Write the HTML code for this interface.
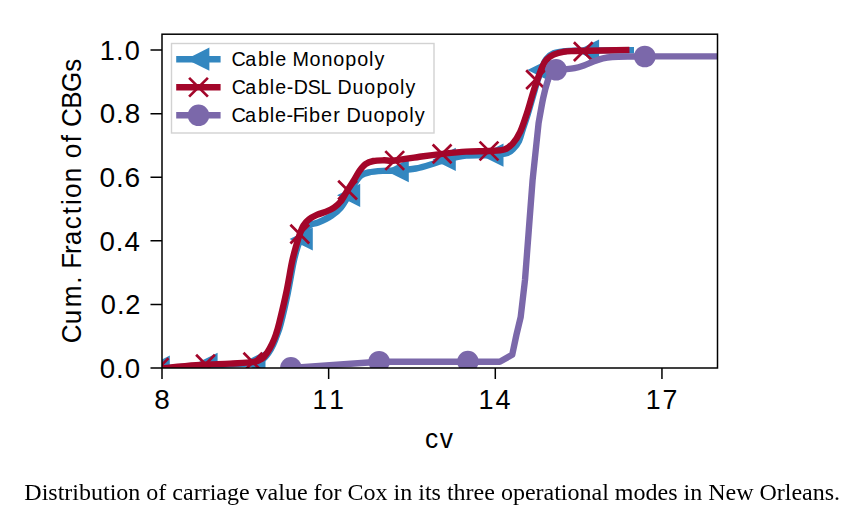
<!DOCTYPE html>
<html><head><meta charset="utf-8"><style>
html,body{margin:0;padding:0;background:#fff;}
body{width:866px;height:528px;overflow:hidden;}
svg{display:block;}
text{font-family:"Liberation Sans",sans-serif;fill:#000;}
.cap{font-family:"Liberation Serif",serif;}
</style></head><body>
<svg width="866" height="528" viewBox="0 0 866 528">
<rect x="0" y="0" width="866" height="528" fill="#fff"/>

<path d="M150.50,368.00H162.00M150.50,304.42H162.00M150.50,240.84H162.00M150.50,177.26H162.00M150.50,113.68H162.00M150.50,50.10H162.00M162.00,368.00V379.00M328.65,368.00V379.00M495.30,368.00V379.00M661.95,368.00V379.00" stroke="#000" stroke-width="1.5" fill="none"/>
<text transform="translate(99.07,377.75) scale(1.0067,1)" font-size="27.5"><tspan x="0.63">0</tspan><tspan x="16.86">.</tspan><tspan x="25.46">0</tspan></text>
<text transform="translate(99.96,314.17) scale(0.9907,1)" font-size="27.5"><tspan x="0.76">0</tspan><tspan x="17.20">.</tspan><tspan x="25.64">2</tspan></text>
<text transform="translate(98.80,250.59) scale(1.0067,1)" font-size="27.5"><tspan x="0.63">0</tspan><tspan x="16.86">.</tspan><tspan x="25.45">4</tspan></text>
<text transform="translate(98.98,187.01) scale(1.0224,1)" font-size="27.5"><tspan x="0.50">0</tspan><tspan x="16.54">.</tspan><tspan x="24.95">6</tspan></text>
<text transform="translate(99.12,123.43) scale(1.0116,1)" font-size="27.5"><tspan x="0.59">0</tspan><tspan x="16.76">.</tspan><tspan x="25.30">8</tspan></text>
<text transform="translate(99.07,59.85) scale(0.9875,1)" font-size="27.5"><tspan x="0.65">1</tspan><tspan x="17.26">.</tspan><tspan x="26.10">0</tspan></text>
<text transform="translate(153.67,408.85) scale(1.0152,1)" font-size="27.5"><tspan x="0.56">8</tspan></text>
<text transform="translate(311.75,408.85) scale(0.9592,1)" font-size="27.5"><tspan x="0.91">1</tspan><tspan x="18.28">1</tspan></text>
<text transform="translate(477.93,408.85) scale(0.9836,1)" font-size="27.5"><tspan x="0.68">1</tspan><tspan x="17.76">4</tspan></text>
<text transform="translate(644.96,408.85) scale(0.9711,1)" font-size="27.5"><tspan x="0.80">1</tspan><tspan x="18.04">7</tspan></text>
<text transform="translate(424.91,447.63) scale(0.9654,1)" font-size="27.4"><tspan x="0.06">c</tspan><tspan x="15.35">v</tspan></text>
<text transform="translate(81.3,342.62) rotate(-90) scale(0.9606,1)" font-size="27.1"><tspan x="-0.72">C</tspan><tspan x="19.18">u</tspan><tspan x="36.77">m</tspan><tspan x="61.25">.</tspan><tspan x="76.87">F</tspan><tspan x="92.29">r</tspan><tspan x="101.27">a</tspan><tspan x="118.04">c</tspan><tspan x="133.71">t</tspan><tspan x="143.38">i</tspan><tspan x="150.58">o</tspan><tspan x="167.06">n</tspan><tspan x="191.83">o</tspan><tspan x="208.65">f</tspan><tspan x="224.37">C</tspan><tspan x="243.49">B</tspan><tspan x="260.82">G</tspan><tspan x="281.87">s</tspan></text>
<defs><clipPath id="ax"><rect x="162.0" y="34.2" width="555.5" height="333.8"/></clipPath></defs>
<g clip-path="url(#ax)">
<path d="M162.50,368.50C169.67,368.00 190.33,366.42 205.50,365.50C220.67,364.58 244.08,363.92 253.50,363.00C262.92,362.08 259.52,361.63 262.00,360.00C264.48,358.37 266.53,355.75 268.40,353.20C270.27,350.65 271.77,347.70 273.20,344.70C274.63,341.70 275.75,338.65 277.00,335.20C278.25,331.75 278.90,331.03 280.70,324.00C282.50,316.97 285.67,303.25 287.80,293.00C289.93,282.75 291.83,270.28 293.50,262.50C295.17,254.72 296.50,250.38 297.80,246.30C299.10,242.22 299.93,240.88 301.30,238.00C302.67,235.12 304.38,231.27 306.00,229.00C307.62,226.73 308.98,225.48 311.00,224.40C313.02,223.32 314.70,223.93 318.10,222.50C321.50,221.07 327.65,218.23 331.40,215.80C335.15,213.37 337.73,211.32 340.60,207.90C343.47,204.48 346.20,199.45 348.60,195.30C351.00,191.15 352.93,186.30 355.00,183.00C357.07,179.70 358.77,177.25 361.00,175.50C363.23,173.75 364.80,173.27 368.40,172.50C372.00,171.73 377.90,171.22 382.60,170.90C387.30,170.58 391.07,171.00 396.60,170.60C402.13,170.20 409.43,169.73 415.80,168.50C422.17,167.27 430.10,164.57 434.80,163.20C439.50,161.83 438.80,161.57 444.00,160.30C449.20,159.03 458.03,156.47 466.00,155.60C473.97,154.73 484.87,155.53 491.80,155.10C498.73,154.67 503.98,154.08 507.60,153.00C511.22,151.92 511.60,150.60 513.50,148.60C515.40,146.60 517.48,144.10 519.00,141.00C520.52,137.90 521.13,134.50 522.60,130.00C524.07,125.50 526.02,119.83 527.80,114.00C529.58,108.17 531.70,100.50 533.30,95.00C534.90,89.50 535.88,85.67 537.40,81.00C538.92,76.33 540.92,70.67 542.40,67.00C543.88,63.33 544.42,61.28 546.30,59.00C548.18,56.72 550.65,54.58 553.70,53.30C556.75,52.02 561.05,51.73 564.60,51.30C568.15,50.87 563.43,50.88 575.00,50.70C586.57,50.52 624.17,50.28 634.00,50.20" fill="none" stroke="#3387c0" stroke-width="6.4" stroke-linejoin="round"/>
<path d="M146.60,367.10L169.80,355.50L169.80,378.70ZM194.40,364.30L217.60,352.70L217.60,375.90ZM242.30,362.70L265.50,351.10L265.50,374.30ZM289.60,239.00L312.80,227.40L312.80,250.60ZM337.00,195.30L360.20,183.70L360.20,206.90ZM385.60,170.70L408.80,159.10L408.80,182.30ZM432.60,159.40L455.80,147.80L455.80,171.00ZM480.30,155.20L503.50,143.60L503.50,166.80ZM527.40,70.00L550.60,58.40L550.60,81.60ZM575.90,51.10L599.10,39.50L599.10,62.70Z" fill="#3387c0"/>
<path d="M162.50,368.20C168.08,367.70 184.75,365.97 196.00,365.20C207.25,364.43 220.62,364.10 230.00,363.60C239.38,363.10 247.00,363.00 252.30,362.20C257.60,361.40 259.28,360.47 261.80,358.80C264.32,357.13 265.67,354.72 267.40,352.20C269.13,349.68 270.77,346.70 272.20,343.70C273.63,340.70 274.83,337.65 276.00,334.20C277.17,330.75 277.48,329.95 279.20,323.00C280.92,316.05 284.17,302.67 286.30,292.50C288.43,282.33 290.33,269.87 292.00,262.00C293.67,254.13 295.03,249.85 296.30,245.30C297.57,240.75 298.40,238.00 299.60,234.70C300.80,231.40 301.97,228.03 303.50,225.50C305.03,222.97 306.58,221.27 308.80,219.50C311.02,217.73 313.92,216.22 316.80,214.90C319.68,213.58 323.23,212.82 326.10,211.60C328.97,210.38 331.58,209.27 334.00,207.60C336.42,205.93 338.33,204.52 340.60,201.60C342.87,198.68 345.43,193.57 347.60,190.10C349.77,186.63 351.62,184.00 353.60,180.80C355.58,177.60 357.52,173.67 359.50,170.90C361.48,168.13 363.18,165.85 365.50,164.20C367.82,162.55 370.32,161.65 373.40,161.00C376.48,160.35 380.45,160.38 384.00,160.30C387.55,160.22 388.45,161.13 394.70,160.50C400.95,159.87 413.60,157.60 421.50,156.50C429.40,155.40 434.68,154.72 442.10,153.90C449.52,153.08 458.15,152.08 466.00,151.60C473.85,151.12 482.83,151.35 489.20,151.00C495.57,150.65 500.28,150.73 504.20,149.50C508.12,148.27 510.03,146.53 512.70,143.60C515.37,140.67 517.82,137.00 520.20,131.90C522.58,126.80 524.93,119.30 527.00,113.00C529.07,106.70 530.93,99.47 532.60,94.10C534.27,88.73 535.38,85.35 537.00,80.80C538.62,76.25 540.67,70.35 542.30,66.80C543.93,63.25 544.92,61.53 546.80,59.50C548.68,57.47 550.63,55.90 553.60,54.60C556.57,53.30 561.03,52.30 564.60,51.70C568.17,51.10 564.20,51.28 575.00,51.00C585.80,50.72 620.33,50.17 629.40,50.00" fill="none" stroke="#a3062a" stroke-width="6.4" stroke-linejoin="round"/>
<path d="M149.70,358.20L168.50,377.00M149.70,377.00L168.50,358.20M196.10,354.80L214.90,373.60M196.10,373.60L214.90,354.80M243.50,352.80L262.30,371.60M243.50,371.60L262.30,352.80M290.40,224.70L309.20,243.50M290.40,243.50L309.20,224.70M338.20,180.70L357.00,199.50M338.20,199.50L357.00,180.70M385.30,151.10L404.10,169.90M385.30,169.90L404.10,151.10M432.70,144.50L451.50,163.30M432.70,163.30L451.50,144.50M479.60,141.60L498.40,160.40M479.60,160.40L498.40,141.60M526.20,70.20L545.00,89.00M526.20,89.00L545.00,70.20M573.90,42.20L592.70,61.00M573.90,61.00L592.70,42.20" fill="none" stroke="#a3062a" stroke-width="2.7"/>
<path d="M290.90,368.00L379.10,361.80L467.90,361.70L499.80,361.70L512.20,354.80L516.40,335.00L520.70,317.00L525.00,280.00L528.80,230.00L532.60,180.00L538.60,123.00C539.37,118.83 541.72,104.92 543.20,98.00C544.68,91.08 546.12,85.77 547.50,81.50C548.88,77.23 550.07,74.35 551.50,72.40C552.93,70.45 553.85,70.32 556.10,69.80C558.35,69.28 561.93,69.57 565.00,69.30C568.07,69.03 571.35,68.85 574.50,68.20C577.65,67.55 580.75,66.50 583.90,65.40C587.05,64.30 590.23,62.77 593.40,61.60C596.57,60.43 599.75,59.17 602.90,58.40C606.05,57.63 607.57,57.32 612.30,57.00C617.03,56.68 625.88,56.60 631.30,56.50C636.72,56.40 630.02,56.42 644.80,56.40C659.58,56.38 707.47,56.40 720.00,56.40" fill="none" stroke="#7b68aa" stroke-width="6.4" stroke-linejoin="round"/>
<circle cx="290.9" cy="367.8" r="10.8" fill="#7b68aa"/><circle cx="379.1" cy="361.7" r="10.8" fill="#7b68aa"/><circle cx="467.9" cy="361.6" r="10.8" fill="#7b68aa"/><circle cx="556.1" cy="69.8" r="10.8" fill="#7b68aa"/><circle cx="644.8" cy="56.5" r="10.8" fill="#7b68aa"/>
</g>
<rect x="162.00" y="34.20" width="555.50" height="333.80" fill="none" stroke="#000" stroke-width="1.5"/>
<rect x="171.5" y="43.5" width="262.5" height="89.5" fill="#fff" fill-opacity="0.8" stroke="#d2d2d2" stroke-width="1.4"/>
<path d="M176.2,59.20H220.6" stroke="#3387c0" stroke-width="6.4"/>
<path d="M186.20,59.20L209.40,47.60L209.40,70.80Z" fill="#3387c0"/>
<text transform="translate(232.12,65.80) scale(0.9591,1)" font-size="20.6"><tspan x="-0.58">C</tspan><tspan x="13.59">a</tspan><tspan x="26.92">b</tspan><tspan x="39.34">l</tspan><tspan x="44.85">e</tspan><tspan x="63.07">M</tspan><tspan x="80.64">o</tspan><tspan x="93.12">n</tspan><tspan x="105.51">o</tspan><tspan x="118.08">p</tspan><tspan x="130.40">o</tspan><tspan x="142.72">l</tspan><tspan x="148.54">y</tspan></text>
<path d="M176.2,87.25H220.6" stroke="#a3062a" stroke-width="6.4"/>
<path d="M189.10,77.85L207.90,96.65M189.10,96.65L207.90,77.85" stroke="#a3062a" stroke-width="2.7"/>
<text transform="translate(232.12,94.00) scale(0.9513,1)" font-size="20.6"><tspan x="-0.52">C</tspan><tspan x="13.75">a</tspan><tspan x="27.19">b</tspan><tspan x="39.68">l</tspan><tspan x="45.27">e</tspan><tspan x="57.35">-</tspan><tspan x="64.77">D</tspan><tspan x="79.54">S</tspan><tspan x="93.00">L</tspan><tspan x="110.66">D</tspan><tspan x="126.42">u</tspan><tspan x="139.00">o</tspan><tspan x="151.68">p</tspan><tspan x="164.10">o</tspan><tspan x="176.49">l</tspan><tspan x="182.37">y</tspan></text>
<path d="M176.2,115.30H220.6" stroke="#7b68aa" stroke-width="6.4"/>
<circle cx="198.5" cy="115.30" r="10.8" fill="#7b68aa"/>
<text transform="translate(232.12,122.20) scale(0.9650,1)" font-size="20.6"><tspan x="-0.62">C</tspan><tspan x="13.46">a</tspan><tspan x="26.71">b</tspan><tspan x="39.08">l</tspan><tspan x="44.54">e</tspan><tspan x="56.48">-</tspan><tspan x="62.87">F</tspan><tspan x="73.94">i</tspan><tspan x="79.68">b</tspan><tspan x="91.99">e</tspan><tspan x="104.82">r</tspan><tspan x="118.49">D</tspan><tspan x="134.05">u</tspan><tspan x="146.45">o</tspan><tspan x="158.94">p</tspan><tspan x="171.19">o</tspan><tspan x="183.45">l</tspan><tspan x="189.21">y</tspan></text>
<g style="will-change:transform"><text class="cap" x="24.35" y="499.9" font-size="24">Distribution of carriage value for Cox in its three operational modes in New Orleans.</text></g>
</svg></body></html>
